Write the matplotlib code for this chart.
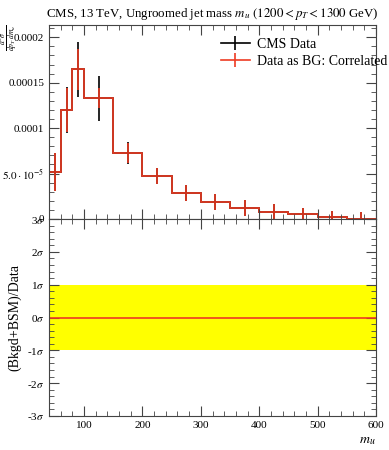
import numpy as np
import matplotlib
matplotlib.use("Agg")
import matplotlib.pyplot as plt
from matplotlib.ticker import MultipleLocator, FixedLocator, FixedFormatter
from matplotlib.lines import Line2D

plt.rcParams['font.family'] = ['Liberation Serif', 'DejaVu Serif']
plt.rcParams['mathtext.fontset'] = 'stix'

# bin edges in m_u (GeV)
edges = [40, 60, 80, 100, 150, 200, 250, 300, 350, 400, 450, 500, 550, 600]
# CMS data values and errors
data_vals = [5.14e-5, 1.20e-4, 1.648e-4, 1.329e-4, 7.26e-5, 4.73e-5, 2.89e-5,
             1.90e-5, 1.24e-5, 8.0e-6, 5.2e-6, 2.2e-6, 0.5e-6]
data_err = [2.1e-5, 2.5e-5, 3.05e-5, 2.5e-5, 1.2e-5, 8.8e-6, 8.6e-6,
            8.6e-6, 8.8e-6, 9.0e-6, 7.0e-6, 7.0e-6, 7.5e-6]
# data-as-background errors (correlated 0%)
bg_err = [2.1e-5, 2.4e-5, 2.25e-5, 1.1e-5, 1.1e-5, 8.6e-6, 8.6e-6,
          8.6e-6, 8.8e-6, 9.0e-6, 7.0e-6, 7.0e-6, 7.5e-6]

top_ticks = [0, 5e-5, 1e-4, 1.5e-4, 2e-4]
top_labels = ['0', r'$5.0\cdot10^{-5}$', '0.0001', '0.00015', '0.0002']
sig_ticks = [-3, -2, -1, 0, 1, 2, 3]
x_ticks = [100, 200, 300, 400, 500, 600]

red = '#ee3b22'

W, H = 389, 450
fig = plt.figure(figsize=(W / 100, H / 100), dpi=100)
L, R = 49 / W, 376 / W
ax = fig.add_axes([L, 1 - 219 / H, R - L, (219 - 25) / H])
ax2 = fig.add_axes([L, 1 - 416 / H, R - L, (416 - 219) / H])

edges_a = np.array(edges)
centers = 0.5 * (edges_a[1:] + edges_a[:-1])

# top panel: data underneath, data-as-BG on top
ax.stairs(data_vals, edges, color='black', lw=1.2, baseline=None)
ax.errorbar(centers, data_vals, yerr=data_err, fmt='none', ecolor='black', elinewidth=1.2)
ax.stairs(data_vals, edges, color=red, lw=1.2, baseline=None)
ax.errorbar(centers, data_vals, yerr=bg_err, fmt='none', ecolor=red, elinewidth=1.2)

ax.set_xlim(40, 600)
ax.set_ylim(0, 2.135e-4)
ax.yaxis.set_major_locator(FixedLocator(top_ticks))
ax.yaxis.set_major_formatter(FixedFormatter(top_labels))
ax.yaxis.set_minor_locator(MultipleLocator(1e-5))
ax.xaxis.set_major_locator(MultipleLocator(100))
ax.xaxis.set_minor_locator(MultipleLocator(20))
ax.tick_params(labelbottom=False)

h1 = Line2D([], [], color='black', lw=1.2, marker='|', markersize=10, markeredgewidth=1.2)
h2 = Line2D([], [], color=red, lw=1.2, marker='|', markersize=10, markeredgewidth=1.2)
ax.legend([h1, h2], ['CMS Data', 'Data as BG: Correlated 0%'], loc='upper left',
          bbox_to_anchor=(0.525, 0.935), frameon=False, fontsize=10, handlelength=2.1,
          handletextpad=0.5, borderaxespad=0, borderpad=0, labelspacing=0.3)

ax.set_title(r'CMS, 13 TeV, Ungroomed jet mass $m_u$ $(1200 < p_T < 1300$ GeV)',
             fontsize=9.3, pad=6)
fig.text(9 / W, 1 - 24 / H, r'$\frac{d^2\sigma}{dp_T\,dm_u}$', rotation=90,
         ha='center', va='top', fontsize=8)

# bottom panel
ax2.axhspan(-1, 1, color='#ffff00', lw=0)
ax2.plot([edges[0], edges[-1]], [0, 0], color=red, lw=1.2)
ax2.set_xlim(40, 600)
ax2.set_ylim(-3, 3)
ax2.yaxis.set_major_locator(FixedLocator(sig_ticks))
ax2.yaxis.set_major_formatter(FixedFormatter([f'{v}$\\sigma$' for v in sig_ticks]))
ax2.yaxis.set_minor_locator(MultipleLocator(0.2))
ax2.xaxis.set_major_locator(FixedLocator(x_ticks))
ax2.xaxis.set_minor_locator(MultipleLocator(20))
ax2.set_ylabel('(Bkgd+BSM)/Data', fontsize=10, labelpad=4)
ax2.set_xlabel('$m_u$', fontsize=10, loc='right', labelpad=3)

for a in (ax, ax2):
    a.tick_params(which='both', direction='in', top=True, right=True, labelsize=8,
                  color='#444444')
    a.tick_params(which='major', length=7)
    a.tick_params(which='minor', length=3.5)
    for s in a.spines.values():
        s.set_color('#444444')

fig.savefig('out.png', dpi=100)
